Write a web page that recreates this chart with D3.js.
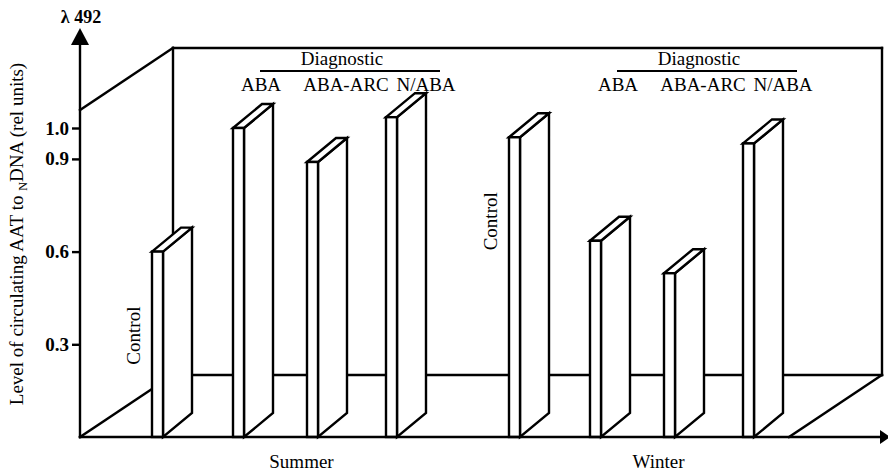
<!DOCTYPE html>
<html>
<head>
<meta charset="utf-8">
<script src="https://cdn.jsdelivr.net/npm/d3@7"></script>
<style>
  body { margin: 0; background: #fff; }
  svg { display: block; }
</style>
</head>
<body>
<div id="chart"></div>
<script>
// data
var seasons = ["Summer", "Winter"];
var groups = ["Control", "ABA", "ABA-ARC", "N/ABA"];
var summerValues = [0.60, 1.00, 0.89, 1.035];
var winterValues = [0.97, 0.635, 0.53, 0.95];
var yTicks = [0.3, 0.6, 0.9, 1.0];
var diagLabels = ["ABA", "ABA-ARC", "N/ABA"];

var serif = "'Liberation Serif', Tinos, 'Times New Roman', Times, 'DejaVu Serif', serif";
var width = 888, height = 474;
var x0Axis = 80, baseY = 437;
var floorDepth = {dx: 93, dy: -62};
var barDepth = {dx: 29, dy: -24};
var barFront = 11;
var wallTop = 48;
var lw = 2.4;

var svg = d3.select("#chart").append("svg")
    .attr("width", width)
    .attr("height", height)
    .style("font-family", serif);

// scales
var y = d3.scaleLinear().domain([0, 1]).range([baseY, 128]);
var xSeason = d3.scaleBand().domain(seasons).range([140, 854]);
// bars inside a season are not evenly spaced in the original
var xGroup = d3.scaleOrdinal().domain(groups).range([12, 93, 167, 246]);

var data = [];
seasons.forEach(function(s, si) {
  var vals = si == 0 ? summerValues : winterValues;
  groups.forEach(function(g, gi) {
    data.push({season: s, group: g, value: vals[gi]});
  });
});

function line(x1, y1, x2, y2) {
  svg.append("line")
    .attr("x1", x1).attr("y1", y1).attr("x2", x2).attr("y2", y2)
    .attr("stroke", "#000").attr("stroke-width", lw).attr("stroke-linecap", "square");
}

function label(x, y, str, size) {
  return svg.append("text")
    .attr("x", x).attr("y", y)
    .attr("text-anchor", "middle")
    .style("font-family", serif)
    .attr("font-size", size)
    .text(str);
}

// the 3d box: back wall and floor
var floorRight = 789;
var bx0 = x0Axis + floorDepth.dx, by0 = baseY + floorDepth.dy;
line(x0Axis, baseY, bx0, by0);
line(x0Axis, y(1) - 18, bx0, wallTop);
line(bx0, wallTop, floorRight + floorDepth.dx, wallTop);
line(bx0, wallTop, bx0, by0);
line(floorRight + floorDepth.dx, wallTop, floorRight + floorDepth.dx, by0);
line(bx0, by0, floorRight + floorDepth.dx, by0);
line(floorRight, baseY, floorRight + floorDepth.dx, by0);

// bars
var bars = svg.append("g")
    .attr("fill", "#fff")
    .attr("stroke", "#000")
    .attr("stroke-width", lw)
    .attr("stroke-linejoin", "miter");

data.forEach(function(d) {
  var bx = xSeason(d.season) + xGroup(d.group);
  var ty = y(d.value);
  var g = bars.append("g");
  // side face
  g.append("polygon").attr("points", [
    [bx + barFront, ty],
    [bx + barFront + barDepth.dx, ty + barDepth.dy],
    [bx + barFront + barDepth.dx, baseY + barDepth.dy],
    [bx + barFront, baseY]
  ].join(" "));
  // top face
  g.append("polygon").attr("points", [
    [bx, ty],
    [bx + barDepth.dx, ty + barDepth.dy],
    [bx + barFront + barDepth.dx, ty + barDepth.dy],
    [bx + barFront, ty]
  ].join(" "));
  // front face
  g.append("rect")
    .attr("x", bx).attr("y", ty)
    .attr("width", barFront).attr("height", baseY - ty);
});

// control labels
data.filter(function(d) { return d.group == "Control"; }).forEach(function(d) {
  var bx = xSeason(d.season) + xGroup(d.group);
  label(0, 0, d.group, 19)
    .attr("x", null).attr("y", null)
    .attr("transform", "translate(" + (bx - 12) + "," + (y(d.value) + 84) + ") rotate(-90)");
});

// diagnostic headers
var diagOffsets = [121, 206, 286];
seasons.forEach(function(s) {
  var sx = xSeason(s);
  label(sx + 202, 65, "Diagnostic", 19);
  svg.append("line")
    .attr("x1", sx + 120).attr("x2", sx + 300)
    .attr("y1", 71).attr("y2", 71)
    .attr("stroke", "#000").attr("stroke-width", 2);
  diagLabels.forEach(function(l, i) {
    label(sx + diagOffsets[i], 91, l, 19);
  });
  // season label
  label(sx + xSeason.bandwidth() / 2 - 17, 468, s, 19);
});

// axes
var yAxis = d3.axisLeft(y).tickValues(yTicks).tickFormat(d3.format(".1f")).tickSize(8);
var ya = svg.append("g")
    .attr("transform", "translate(" + x0Axis + ",0)")
    .call(yAxis);
ya.attr("font-family", null).attr("font-size", null);
ya.select(".domain").remove();
ya.selectAll(".tick line").attr("stroke", "#000").attr("stroke-width", lw);
ya.selectAll(".tick text")
    .style("font-family", serif)
    .attr("font-size", 19)
    .attr("font-weight", "bold")
    .attr("x", -11);

line(x0Axis, baseY, x0Axis, 44);
svg.append("polygon")
    .attr("points", [[x0Axis, 28], [x0Axis - 9, 45], [x0Axis + 9, 45]].join(" "))
    .attr("fill", "#000");
line(x0Axis, baseY, 880, baseY);
svg.append("polygon")
    .attr("points", [[890, baseY], [880, baseY - 7], [880, baseY + 7]].join(" "))
    .attr("fill", "#000");

label(x0Axis + 1, 23, "\u03bb 492", 18).attr("font-weight", "bold");

// y axis title
var yt = label(0, 0, null, 19)
    .attr("x", null).attr("y", null)
    .attr("transform", "translate(23,234) rotate(-90)");
yt.append("tspan").text("Level of circulating AAT to ");
yt.append("tspan").attr("font-size", 12).attr("dy", 4).text("N");
yt.append("tspan").attr("dy", -4).text("DNA (rel units)");
</script>
</body>
</html>
